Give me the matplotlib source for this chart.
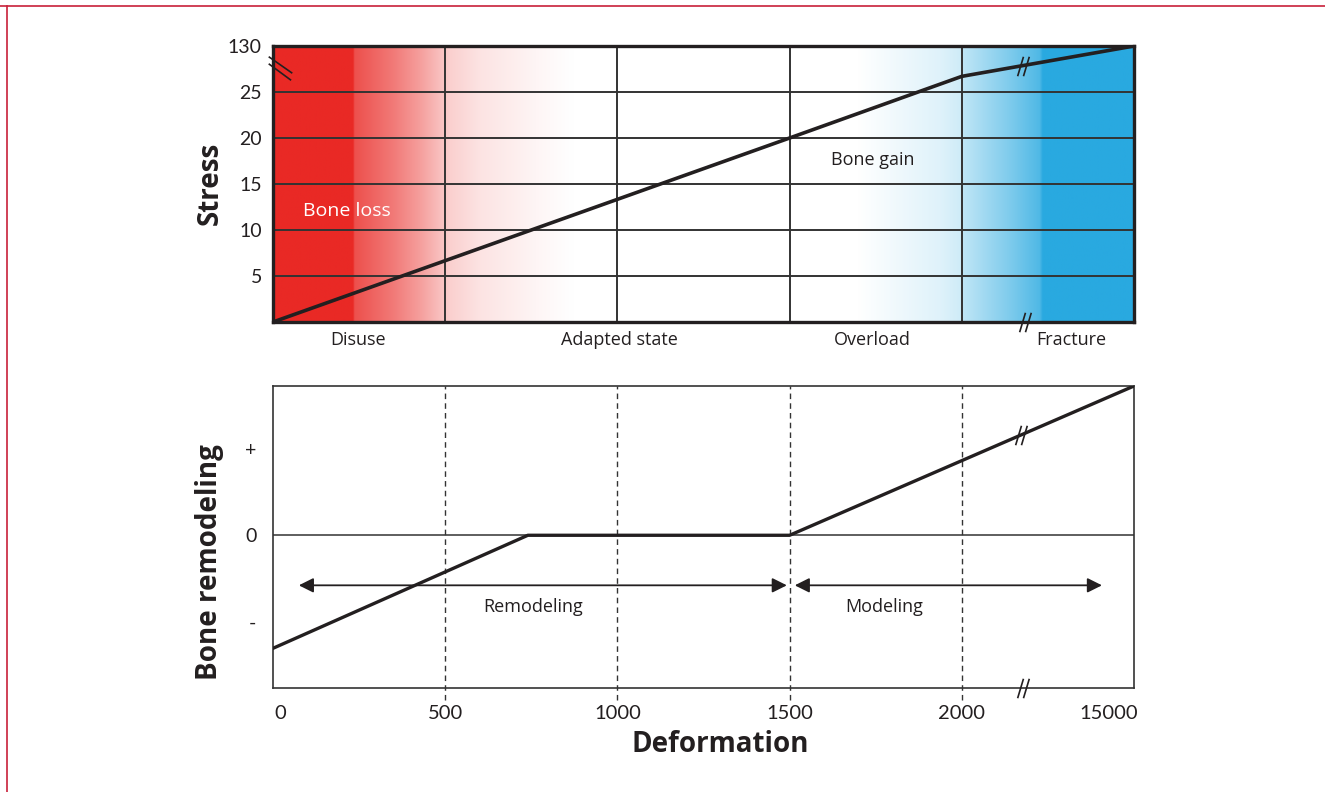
import numpy as np
import matplotlib
matplotlib.use("Agg")
import matplotlib.pyplot as plt
from matplotlib.path import Path
from matplotlib.lines import Line2D
from matplotlib.transforms import blended_transform_factory

plt.rcParams['font.family'] = ['Open Sans', 'DejaVu Sans']

# Data
deform_ticks = [0, 500, 1000, 1500, 2000, 2500]
deform_labels = ['0', '500', '1000', '1500', '2000', '15000']
stress_ticks = [5, 10, 15, 20, 25, 30]
stress_labels = ['5', '10', '15', '20', '25', '130']

stress_x = [0, 1500, 2000, 2500]
stress_y = [0, 20, 26.7, 30]

remodel_x = [0, 740, 1500, 2500]
remodel_y = [-1.31, 0, 0, 1.73]

zones = ['Disuse', 'Adapted state', 'Overload', 'Fracture']
zone_x = [247, 1007, 1739, 2317]

RED = np.array([233, 41, 37]) / 255
BLUE = np.array([41, 169, 224]) / 255
INK = '#231F20'

fig = plt.figure(figsize=(13.25, 7.92), dpi=100)

# Top panel: stress vs deformation
ax1 = fig.add_axes([273 / 1325, 1 - 322 / 792, 861 / 1325, 276 / 792])
ax1.set_xlim(0, 2500)
ax1.set_ylim(0, 30)

# background gradient (red fade left, blue fade right)
xs = np.linspace(0, 2500, 1200)
red_a = np.interp(xs, [0, 232, 236, 350, 427, 514, 600, 775, 870],
                  [1, 1, 0.82, 0.62, 0.45, 0.22, 0.13, 0.04, 0])
blue_a = np.interp(xs, [0, 1700, 1937, 1995, 2005, 2140, 2227, 2236, 2500],
                   [0, 0, 0.15, 0.22, 0.3, 0.6, 0.82, 1, 1])
img = np.ones((1, len(xs), 3))
img = img * (1 - red_a[None, :, None]) + RED * red_a[None, :, None]
img = img * (1 - blue_a[None, :, None]) + BLUE * blue_a[None, :, None]
ax1.imshow(img, extent=(0, 2500, 0, 30), aspect='auto', zorder=0,
           interpolation='bilinear')

for y in stress_ticks[:-1]:
    ax1.axhline(y, color='#333333', lw=1.4, zorder=1)
for x in deform_ticks[1:-1]:
    ax1.axvline(x, color='#333333', lw=1.4, zorder=1)

ax1.plot(stress_x, stress_y, color=INK, lw=2.6, zorder=3)

ax1.set_xticks([])
ax1.set_yticks(stress_ticks)
ax1.set_yticklabels(stress_labels, fontsize=14, family=['Lato', 'DejaVu Sans'])
ax1.tick_params(axis='y', length=0, pad=8, colors=INK)
for s in ax1.spines.values():
    s.set_linewidth(2.4)
    s.set_color(INK)

ax1.text(215, 12.07, 'Bone loss', color='white', fontsize=14,
         ha='center', va='center')
ax1.text(1742, 17.6, 'Bone gain', color=INK, fontsize=13,
         ha='center', va='center')

tr = blended_transform_factory(ax1.transData, ax1.transAxes)
for name, x in zip(zones, zone_x):
    ax1.text(x, -0.065, name, transform=tr, fontsize=13, color=INK,
             ha='center', va='center')

# break marks
slash = Path([(-0.25, -0.5), (0.05, 0.5), (0.05, -0.5), (0.35, 0.5)],
             [Path.MOVETO, Path.LINETO, Path.MOVETO, Path.LINETO])
back = Path([(-0.5, 0.5), (0.5, -0.2), (-0.5, 0.2), (0.45, -0.5)],
            [Path.MOVETO, Path.LINETO, Path.MOVETO, Path.LINETO])


def brk(ax, x, y, marker, size=14):
    ax.plot([x], [y], marker=marker, markersize=size, color=INK, mew=1.2,
            ls='none', clip_on=False, zorder=6)


brk(ax1, 2175, 27.85, slash)
brk(ax1, 2180, 0, slash)
brk(ax1, 20, 27.6, back, size=17)

# Bottom panel: bone remodeling
ax2 = fig.add_axes([273 / 1325, 1 - 688 / 792, 861 / 1325, 302 / 792])
ax2.set_xlim(0, 2500)
ax2.set_ylim(-1.77, 1.73)

ax2.axhline(0, color='#333333', lw=1.1, zorder=1)
for x in deform_ticks[1:-1]:
    ax2.axvline(x, ymin=-0.04, ymax=1, color='#333333', lw=1,
                dashes=(4, 3), clip_on=False, zorder=1)

ax2.plot(remodel_x, remodel_y, color=INK, lw=2.4, zorder=3)

ax2.annotate('', xy=(75, -0.58), xytext=(1492, -0.58),
             arrowprops=dict(arrowstyle='<|-|>', color=INK, lw=1.3,
                             mutation_scale=22, shrinkA=0, shrinkB=0))
ax2.annotate('', xy=(1515, -0.58), xytext=(2407, -0.58),
             arrowprops=dict(arrowstyle='<|-|>', color=INK, lw=1.3,
                             mutation_scale=22, shrinkA=0, shrinkB=0))
ax2.text(755, -0.83, 'Remodeling', fontsize=13, color=INK,
         ha='center', va='center')
ax2.text(1774, -0.83, 'Modeling', fontsize=13, color=INK,
         ha='center', va='center')

ax2.set_xticks([20, 500, 1000, 1500, 2000, 2427])
ax2.set_xticklabels(deform_labels, fontsize=14.5,
                    family=['Lato', 'DejaVu Sans'])
ax2.set_yticks([-1, 0, 1])
ax2.set_yticklabels(['-', '0', '+'], fontsize=14,
                    family=['Lato', 'DejaVu Sans'])
ax2.tick_params(length=0, colors=INK)
ax2.tick_params(axis='x', pad=12)
ax2.tick_params(axis='y', pad=12)
for s in ax2.spines.values():
    s.set_linewidth(1.2)
    s.set_color('#333333')

brk(ax2, 2169, 1.157, slash)
brk(ax2, 2175, -1.77, slash)

# axis titles
fig.text(210 / 1325, 1 - 183 / 792, 'Stress', rotation=90, fontsize=20,
         fontweight='bold', color=INK, ha='center', va='center')
fig.text(210 / 1325, 1 - 562 / 792, 'Bone remodeling', rotation=90,
         fontsize=20, fontweight='bold', color=INK, ha='center', va='center')
fig.text(720 / 1325, 1 - 745 / 792, 'Deformation', fontsize=20,
         fontweight='bold', color=INK, ha='center', va='center')

# thin red frame at top and left
fig.add_artist(Line2D([0, 1], [1 - 6 / 792, 1 - 6 / 792],
                      transform=fig.transFigure, color='#C8203A', lw=1.2))
fig.add_artist(Line2D([7 / 1325, 7 / 1325], [0, 1 - 6 / 792],
                      transform=fig.transFigure, color='#C8203A', lw=1.2))

fig.savefig('out.png', dpi=100)
